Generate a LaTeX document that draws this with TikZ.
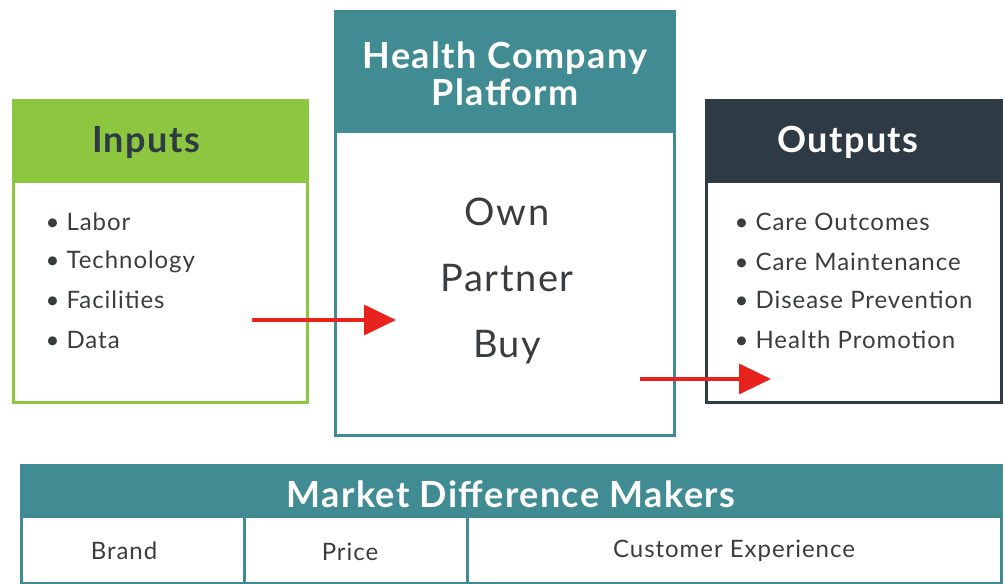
\documentclass[tikz,border=0pt]{standalone}
\usepackage{fontspec}
\setmainfont{Lato}[LetterSpace=4]
\usetikzlibrary{calc, positioning, arrows.meta}

\definecolor{ingreen}{HTML}{8DC63F}
\definecolor{platteal}{HTML}{418C93}
\definecolor{outdark}{HTML}{2E3A44}
\definecolor{txtgray}{HTML}{3A3D40}
\definecolor{arrred}{HTML}{E8231E}

\tikzset{
    boxhead/.style={font=\bfseries\fontsize{36}{40}\selectfont},
    itemtext/.style={anchor=west, text=txtgray, font=\fontsize{24}{28}\selectfont},
    bigword/.style={text=txtgray, font=\fontsize{38}{42}\selectfont},
    celltext/.style={text=txtgray, font=\fontsize{24}{28}\selectfont},
    flow/.style={arrred, line width=3.5pt, -{Triangle[length=32pt, width=30pt]}}
}

\begin{document}
\begin{tikzpicture}[x=1pt, y=-1pt]
            \useasboundingbox[fill=white] (0, 0) rectangle (1005, 584);
            % inputs
            \fill[ingreen] (12, 99) rectangle (309, 183);
            \draw[ingreen, line width=3pt] (13.5, 100.5) rectangle (307.5, 402.5);
            \node[boxhead, text=outdark] (intitle) at (146, 142) {Inputs};
            \node[itemtext] (labor) at (42, 222) {\textbullet\ Labor};
            \node[itemtext] (tech) at (42, 262) {\textbullet\ Technology};
            \node[itemtext] (fac) at (42, 300) {\textbullet\ Facilities};
            \node[itemtext] (data) at (42, 340) {\textbullet\ Data};
            % platform
            \fill[platteal] (334, 10) rectangle (676, 133);
            \draw[platteal, line width=3pt] (335.5, 11.5) rectangle (674.5, 435.5);
            \node[boxhead, text=white, align=center] (plattitle) at (505, 74) {Health Company\\[-3pt]Platform};
            \node[bigword] (own) at (507, 212) {Own};
            \node[bigword] (partner) at (507, 278) {Partner};
            \node[bigword] (buy) at (507, 347) {Buy};
            % outputs
            \fill[outdark] (705, 99) rectangle (1003, 183);
            \draw[outdark, line width=3pt] (706.5, 100.5) rectangle (1001.5, 402.5);
            \node[boxhead, text=white] (outtitle) at (848, 142) {Outputs};
            \node[itemtext] (care) at (731, 222) {\textbullet\ Care Outcomes};
            \node[itemtext] (maint) at (731, 262) {\textbullet\ Care Maintenance};
            \node[itemtext] (prev) at (731, 300) {\textbullet\ Disease Prevention};
            \node[itemtext] (promo) at (731, 340) {\textbullet\ Health Promotion};
            % arrows
            \coordinate (a1) at (252, 320);
            \coordinate (b1) at (396, 320);
            \coordinate (a2) at (640, 379);
            \coordinate (b2) at (771, 379);
            \draw[flow] (a1) -- (b1);
            \draw[flow] (a2) -- (b2);
            % market difference makers
            \fill[platteal] (20, 464) rectangle (1003, 518);
            \draw[platteal, line width=3pt] (21.5, 465.5) rectangle (1001.5, 583);
            \draw[platteal, line width=3pt] (244, 516) -- (244, 584);
            \draw[platteal, line width=3pt] (467, 516) -- (467, 584);
            \node[boxhead, text=white, font=\bfseries\fontsize{36}{40}\selectfont] (mdm) at (511, 494) {Market Difference Makers};
            \node[celltext] (brand) at (124, 551) {Brand};
            \node[celltext] (price) at (350, 552) {Price};
            \node[celltext] (cx) at (734, 551) {Customer Experience};
        \end{tikzpicture}
\end{document}
